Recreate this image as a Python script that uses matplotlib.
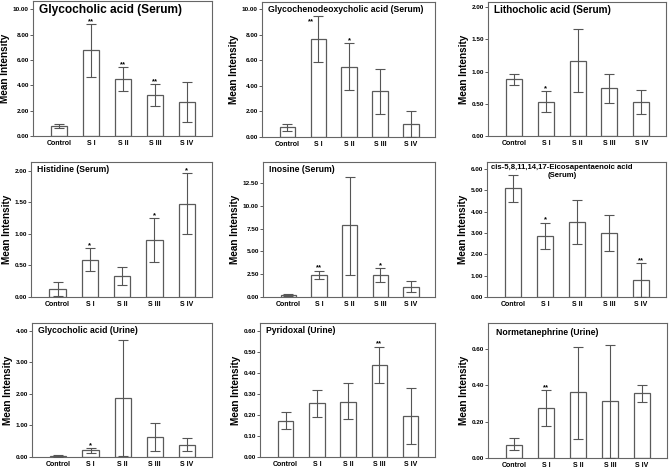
import matplotlib
matplotlib.use("Agg")
import matplotlib.pyplot as plt
from matplotlib.ticker import FormatStrFormatter

plt.rcParams['font.family'] = ['Liberation Sans', 'DejaVu Sans']
plt.rcParams['font.weight'] = 'bold'

groups = ["Control", "S I", "S II", "S III", "S IV"]

titles = [
    "Glycocholic acid (Serum)",
    "Glycochenodeoxycholic acid (Serum)",
    "Lithocholic acid (Serum)",
    "Histidine (Serum)",
    "Inosine (Serum)",
    "cis-5,8,11,14,17-Eicosapentaenoic acid\n(Serum)",
    "Glycocholic acid (Urine)",
    "Pyridoxal (Urine)",
    "Normetanephrine (Urine)",
]

# mean, lower and upper error limits
gca_serum_mean = [0.78, 6.8, 4.5, 3.25, 2.7]
gca_serum_lo = [0.66, 4.65, 3.55, 2.37, 1.13]
gca_serum_hi = [0.92, 8.8, 5.45, 4.07, 4.25]
gcdca_mean = [0.76, 7.64, 5.5, 3.61, 1.0]
gcdca_lo = [0.47, 5.84, 3.66, 1.83, 0.0]
gcdca_hi = [1.05, 9.45, 7.33, 5.34, 2.04]
lca_mean = [0.88, 0.53, 1.17, 0.74, 0.53]
lca_lo = [0.79, 0.37, 0.68, 0.51, 0.34]
lca_hi = [0.97, 0.70, 1.66, 0.97, 0.72]
his_mean = [0.13, 0.59, 0.33, 0.91, 1.48]
his_lo = [0.02, 0.42, 0.19, 0.56, 1.0]
his_hi = [0.23, 0.77, 0.47, 1.25, 1.97]
ino_mean = [0.22, 2.45, 7.88, 2.42, 1.15]
ino_lo = [0.15, 2.0, 2.42, 1.6, 0.58]
ino_hi = [0.28, 2.9, 13.2, 3.2, 1.75]
epa_mean = [5.1, 2.88, 3.54, 3.0, 0.82]
epa_lo = [4.47, 2.24, 2.5, 2.14, 0.0]
epa_hi = [5.74, 3.49, 4.57, 3.85, 1.6]
gca_urine_mean = [0.03, 0.21, 1.86, 0.63, 0.39]
gca_urine_lo = [0.01, 0.14, 0.03, 0.18, 0.18]
gca_urine_hi = [0.05, 0.29, 3.71, 1.09, 0.59]
pyr_mean = [0.173, 0.257, 0.263, 0.436, 0.195]
pyr_lo = [0.135, 0.19, 0.18, 0.35, 0.063]
pyr_hi = [0.213, 0.32, 0.35, 0.525, 0.33]
nme_mean = [0.074, 0.272, 0.36, 0.312, 0.355]
nme_lo = [0.042, 0.173, 0.107, 0.0, 0.305]
nme_hi = [0.11, 0.371, 0.612, 0.619, 0.402]

sig = [
    ["", "**", "**", "**", ""],
    ["", "**", "*", "", ""],
    ["", "*", "", "", ""],
    ["", "*", "", "*", "*"],
    ["", "**", "", "*", ""],
    ["", "*", "", "", "**"],
    ["", "*", "", "", ""],
    ["", "", "", "**", ""],
    ["", "**", "", "", ""],
]

data = [
    (gca_serum_mean, gca_serum_lo, gca_serum_hi),
    (gcdca_mean, gcdca_lo, gcdca_hi),
    (lca_mean, lca_lo, lca_hi),
    (his_mean, his_lo, his_hi),
    (ino_mean, ino_lo, ino_hi),
    (epa_mean, epa_lo, epa_hi),
    (gca_urine_mean, gca_urine_lo, gca_urine_hi),
    (pyr_mean, pyr_lo, pyr_hi),
    (nme_mean, nme_lo, nme_hi),
]

# layout in pixels: left, right, top, bottom
W, H = 669, 469
boxes = [
    (33, 212, 1, 136), (262, 435, 2, 137), (488, 666, 2, 136),
    (31, 212, 162, 297), (263, 435, 162, 297), (487, 666, 162, 297),
    (32, 212, 323, 457), (260, 435, 323, 457), (488, 667, 323, 458),
]
ylims = [10.65, 10.57, 2.08, 2.14, 14.8, 6.33, 4.24, 0.637, 0.741]
ysteps = [2, 2, 0.5, 0.5, 2.5, 1, 1, 0.1, 0.2]
ymaxtick = [10, 10, 2, 2, 12.5, 6, 4, 0.6, 0.6]
title_sizes = [8.6, 6.2, 7.2, 6.2, 6.2, 5.6, 6.2, 6.2, 6.2]

fig = plt.figure(figsize=(W / 100, H / 100), dpi=100)
edge = "#5a5a5a"
for i in range(9):
    l, r, t, b = boxes[i]
    ax = fig.add_axes([l / W, 1 - b / H, (r - l) / W, (b - t) / H])
    m, lo, hi = data[i]
    x = list(range(len(groups)))
    ax.bar(x, m, width=0.5, color="white", edgecolor=edge, linewidth=0.9, zorder=2)
    yerr = [[mm - a for mm, a in zip(m, lo)], [c - mm for mm, c in zip(m, hi)]]
    ax.errorbar(x, m, yerr=yerr, fmt="none", ecolor="#555555", elinewidth=0.8,
                capsize=3.5, capthick=0.8, zorder=3)
    for xi, s, h in zip(x, sig[i], hi):
        if s:
            if i == 1 and xi == 1:
                # sits beside the cap, below the title
                ax.annotate(s, (xi, h), xytext=(-5, -1.5), textcoords="offset points",
                            ha="center", va="top", fontsize=5.5, fontweight="bold")
            else:
                ax.annotate(s, (xi, h), xytext=(0, -0.8), textcoords="offset points",
                            ha="center", va="bottom", fontsize=5.5, fontweight="bold")
    ax.set_xlim(-0.82, 4.78)
    ax.set_ylim(0, ylims[i])
    n = int(round(ymaxtick[i] / ysteps[i]))
    ax.set_yticks([k * ysteps[i] for k in range(n + 1)])
    ax.yaxis.set_major_formatter(FormatStrFormatter("%.2f"))
    ax.set_xticks(x)
    ax.set_xticklabels(groups)
    ax.tick_params(axis="x", length=0, labelsize=5, pad=3)
    ax.tick_params(axis="y", length=2, width=0.6, labelsize=4.6, pad=1, color="#444444")
    for lab in ax.get_xticklabels() + ax.get_yticklabels():
        lab.set_fontweight("bold")
    for sp in ax.spines.values():
        sp.set_color("#666666")
        sp.set_linewidth(0.8)
    ax.set_ylabel("Mean Intensity", fontsize=7.2, fontweight="bold", labelpad=2)
    if i == 5:
        ax.text(0.42, 0.985, titles[i], transform=ax.transAxes, ha="center", va="top",
                fontsize=title_sizes[i], fontweight="bold", multialignment="center")
    elif i == 8:
        ax.text(0.045, 0.96, titles[i], transform=ax.transAxes, ha="left", va="top",
                fontsize=title_sizes[i], fontweight="bold")
    else:
        ax.text(0.035, 0.975, titles[i], transform=ax.transAxes, ha="left", va="top",
                fontsize=title_sizes[i], fontweight="bold")

fig.savefig("out.png", dpi=100)
